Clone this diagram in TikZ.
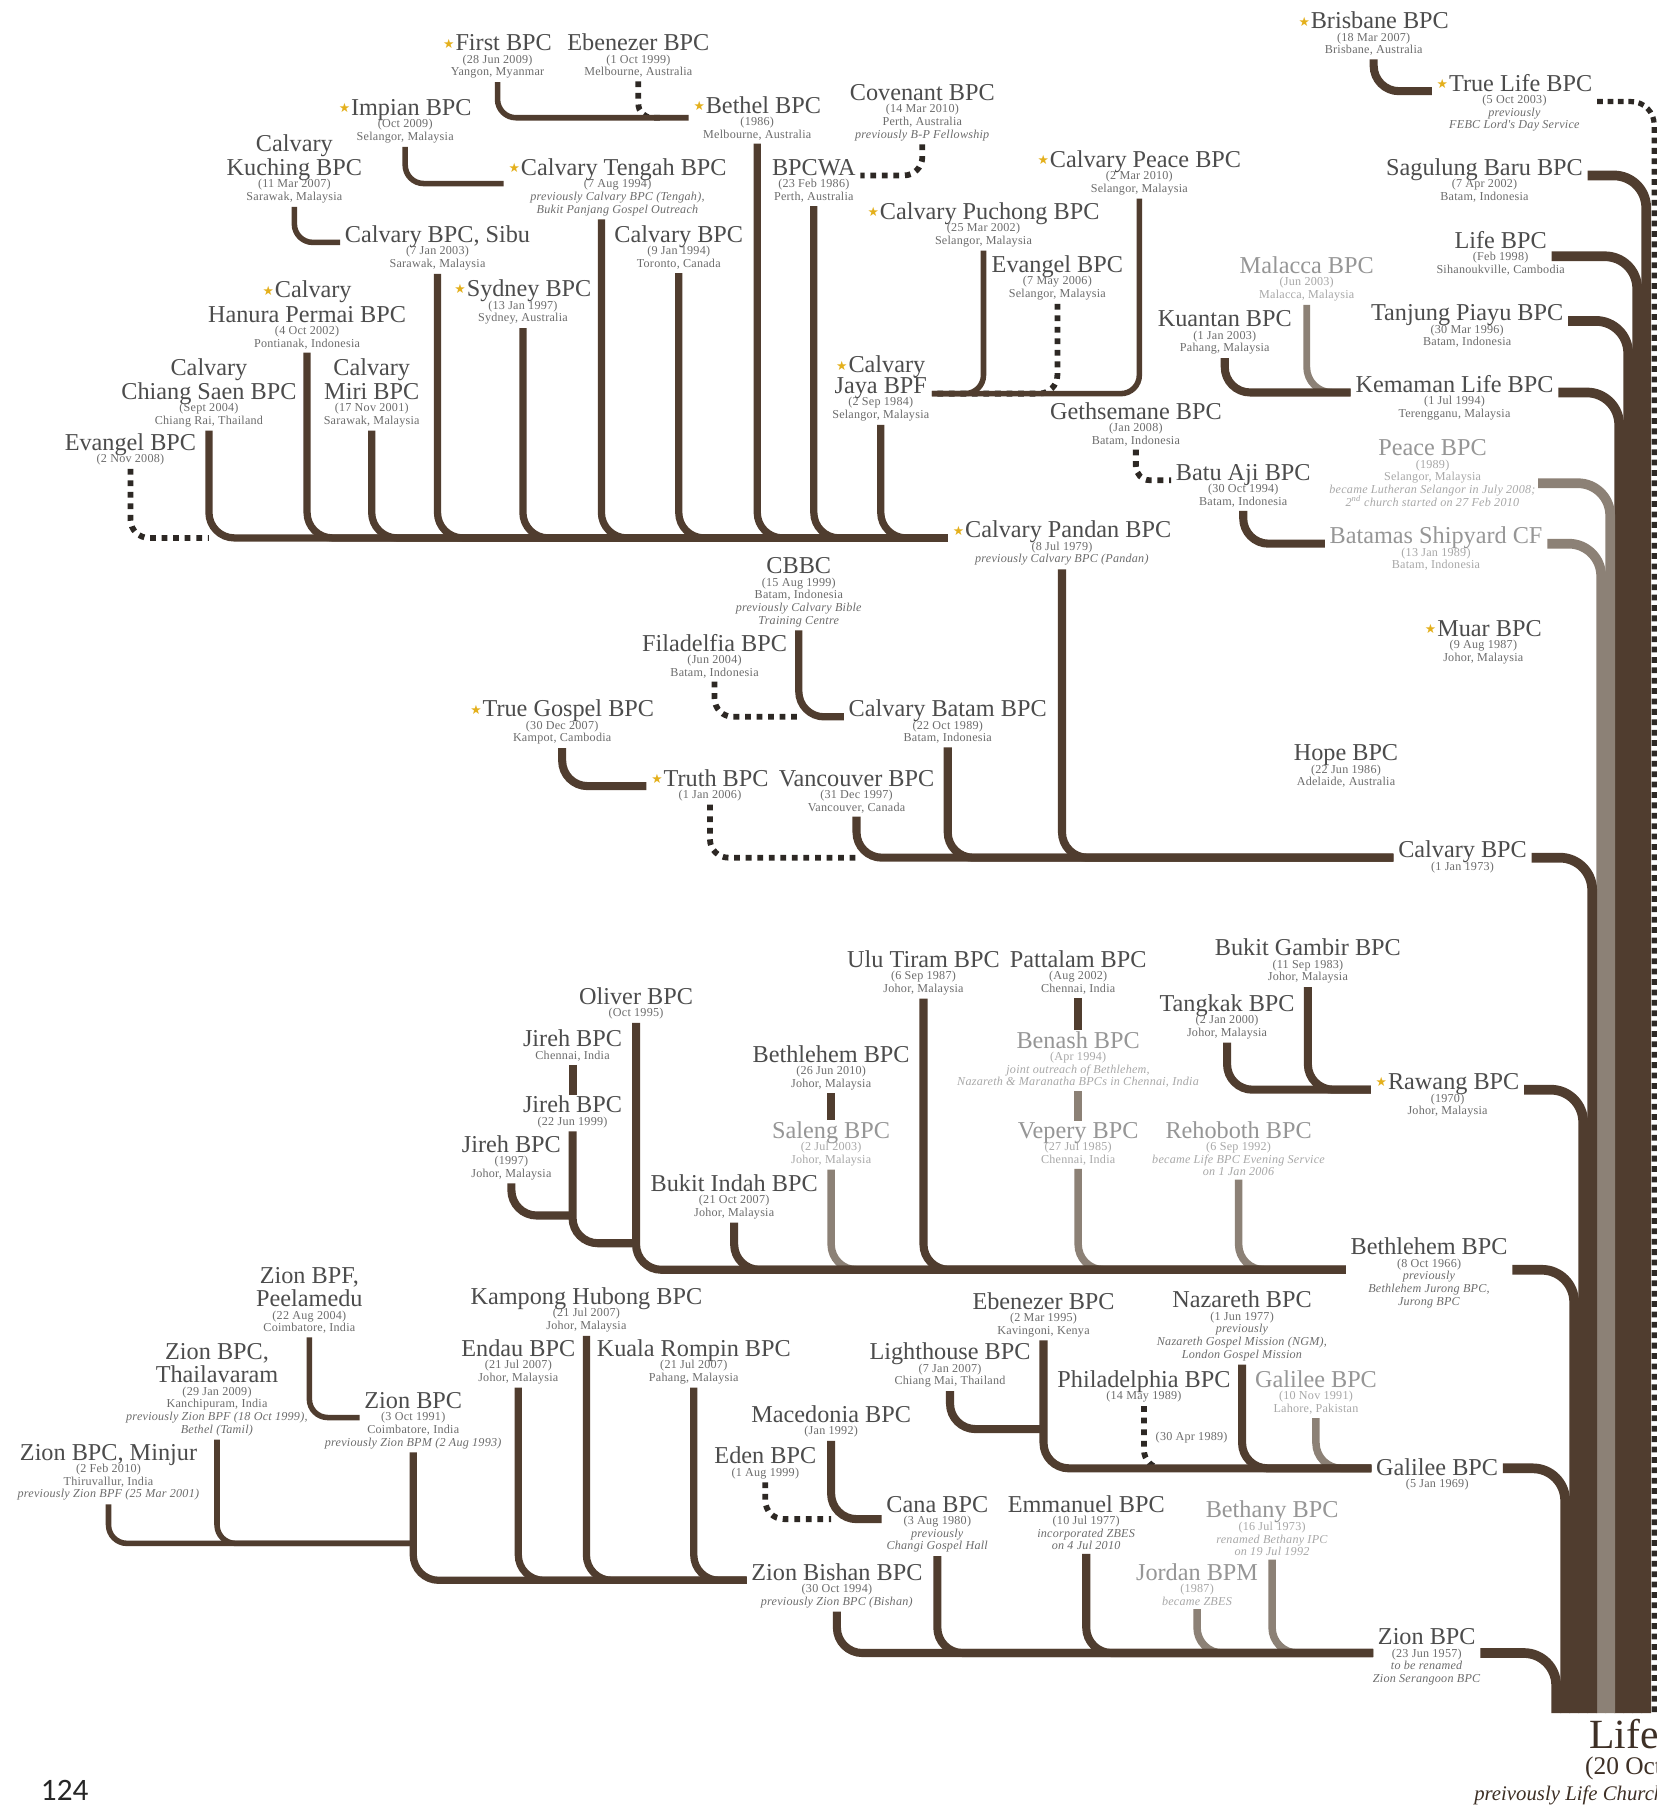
\documentclass[tikz,border=0pt]{standalone}
\usepackage{fontspec}
\setmainfont{Liberation Serif}
\newfontfamily\subff[LetterSpace=2]{Liberation Serif}
\newfontfamily\symf{DejaVu Sans}
\newfontfamily\numf{Carlito}
\setlength{\lineskiplimit}{-100pt}
\definecolor{brn}{RGB}{80,61,47}
\definecolor{gln}{RGB}{140,129,118}
\definecolor{dotc}{RGB}{45,40,36}
\definecolor{tcol}{RGB}{76,76,76}
\definecolor{scol}{RGB}{108,108,108}
\definecolor{fcol}{RGB}{150,150,150}
\definecolor{fscol}{RGB}{168,168,168}
\definecolor{gold}{RGB}{228,176,28}
\definecolor{lifec}{RGB}{62,48,38}
\newcommand\gstar{\raisebox{2.4pt}{\textcolor{gold}{\symf\fontsize{11}{11}\selectfont ★}}\hspace{0.8pt}}
\newcommand\subf{\subff\fontsize{10.5}{11}\selectfont}
\tikzset{
  tt/.style={font=\fontsize{21}{21}\selectfont, text=tcol, inner xsep=4pt, inner ysep=1pt, text depth=0pt, anchor=base},
  ttg/.style={tt, text=fcol},
  ss/.style={font=\subf, text=scol, anchor=north, inner xsep=2pt, inner ysep=3pt, yshift=1pt, align=center},
  ssg/.style={ss, text=fscol},
  link/.style={draw=brn, line width=7pt, rounded corners=22pt, line cap=butt},
  linkc/.style={link, line width=6.3pt},
  linkd/.style={link, line width=4.8pt, rounded corners=16pt},
  glink/.style={link, draw=gln, line width=6.5pt},
  dlink/.style={draw=dotc, line width=5pt, dash pattern=on 5pt off 5pt, rounded corners=16pt, line cap=butt},
  trunk/.style={draw=brn, line width=8.4pt, rounded corners=28pt, line cap=butt}
}
\begin{document}
\begin{tikzpicture}[x=1pt,y=-1pt]
\fill[white] (0,0) rectangle (1435,1568);
\useasboundingbox (0,0) rectangle (1435,1568);

% ---------- top-left cluster ----------
\node[tt] (first) at (431,44) {\gstar First BPC};
\node[ss] (first-s) at (first.south) {(28 Jun 2009)\\Yangon, Myanmar};
\node[tt] (ebmel) at (553,44) {Ebenezer BPC};
\node[ss] (ebmel-s) at (ebmel.south) {(1 Oct 1999)\\Melbourne, Australia};
\node[tt] (bethel) at (656,98) {\gstar Bethel BPC};
\node[ss] (bethel-s) at (bethel.south) {(1986)\\Melbourne, Australia};
\node[tt] (covenant) at (799,87) {Covenant BPC};
\node[ss] (covenant-s) at (covenant.south) {(14 Mar 2010)\\Perth, Australia\\\textit{previously B-P Fellowship}};
\node[tt] (impian) at (351,100) {\gstar Impian BPC};
\node[ss] (impian-s) at (impian.south) {(Oct 2009)\\Selangor, Malaysia};
\node[tt] (kuching) at (255,152) {Kuching BPC};
\node[tt] (kuching-a) at ([yshift=21pt]kuching.base) {Calvary};
\node[ss] (kuching-s) at (kuching.south) {(11 Mar 2007)\\Sarawak, Malaysia};
\node[tt] (tengah) at (535,152) {\gstar Calvary Tengah BPC};
\node[ss] (tengah-s) at (tengah.south) {(7 Aug 1994)\\\textit{previously Calvary BPC (Tengah),}\\\textit{Bukit Panjang Gospel Outreach}};
\node[tt] (bpcwa) at (705,152) {BPCWA};
\node[ss] (bpcwa-s) at (bpcwa.south) {(23 Feb 1986)\\Perth, Australia};
\node[tt] (cpeace) at (987,145) {\gstar Calvary Peace BPC};
\node[ss] (cpeace-s) at (cpeace.south) {(2 Mar 2010)\\Selangor, Malaysia};
\node[tt] (puchong) at (852,190) {\gstar Calvary Puchong BPC};
\node[ss] (puchong-s) at (puchong.south) {(25 Mar 2002)\\Selangor, Malaysia};
\node[tt] (sibu) at (379,210) {Calvary BPC, Sibu};
\node[ss] (sibu-s) at (sibu.south) {(7 Jan 2003)\\Sarawak, Malaysia};
\node[tt] (toronto) at (588,210) {Calvary BPC};
\node[ss] (toronto-s) at (toronto.south) {(9 Jan 1994)\\Toronto, Canada};
\node[tt] (evsel) at (916,236) {Evangel BPC};
\node[ss] (evsel-s) at (evsel.south) {(7 May 2006)\\Selangor, Malaysia};
\node[tt] (hanura) at (266,279) {Hanura Permai BPC};
\node[tt] (hanura-a) at ([yshift=21pt]hanura.base) {\gstar Calvary};
\node[ss] (hanura-s) at (hanura.south) {(4 Oct 2002)\\Pontianak, Indonesia};
\node[tt] (sydney) at (453,257) {\gstar Sydney BPC};
\node[ss] (sydney-s) at (sydney.south) {(13 Jan 1997)\\Sydney, Australia};
\node[tt] (chiang) at (181,346) {Chiang Saen BPC};
\node[tt] (chiang-a) at ([yshift=21pt]chiang.base) {Calvary};
\node[ss] (chiang-s) at (chiang.south) {(Sept 2004)\\Chiang Rai, Thailand};
\node[tt] (miri) at (322,346) {Miri BPC};
\node[tt] (miri-a) at ([yshift=21pt]miri.base) {Calvary};
\node[ss] (miri-s) at (miri.south) {(17 Nov 2001)\\Sarawak, Malaysia};
\node[tt] (jaya) at (763,341) {Jaya BPF};
\node[tt] (jaya-a) at ([yshift=18pt]jaya.base) {\gstar Calvary};
\node[ss] (jaya-s) at (jaya.south) {(2 Sep 1984)\\Selangor, Malaysia};
\node[tt] (evangel) at (113,390) {Evangel BPC};
\node[ss] (evangel-s) at (evangel.south) {(2 Nov 2008)};
\node[tt] (pandan) at (920,466) {\gstar Calvary Pandan BPC};
\node[ss] (pandan-s) at (pandan.south) {(8 Jul 1979)\\\textit{previously Calvary BPC (Pandan)}};

% ---------- middle ----------
\node[tt] (cbbc) at (692,497) {CBBC};
\node[ss] (cbbc-s) at (cbbc.south) {(15 Aug 1999)\\Batam, Indonesia\\\textit{previously Calvary Bible}\\\textit{Training Centre}};
\node[tt] (filad) at (619,564) {Filadelfia BPC};
\node[ss] (filad-s) at (filad.south) {(Jun 2004)\\Batam, Indonesia};
\node[tt] (truegospel) at (487,621) {\gstar True Gospel BPC};
\node[ss] (truegospel-s) at (truegospel.south) {(30 Dec 2007)\\Kampot, Cambodia};
\node[tt] (cbatam) at (821,621) {Calvary Batam BPC};
\node[ss] (cbatam-s) at (cbatam.south) {(22 Oct 1989)\\Batam, Indonesia};
\node[tt] (truth) at (615,681) {\gstar Truth BPC};
\node[ss] (truth-s) at (truth.south) {(1 Jan 2006)};
\node[tt] (vanc) at (742,681) {Vancouver BPC};
\node[ss] (vanc-s) at (vanc.south) {(31 Dec 1997)\\Vancouver, Canada};
\node[tt] (calvary) at (1267,743) {Calvary BPC};
\node[ss] (calvary-s) at (calvary.south) {(1 Jan 1973)};
\node[tt] (hope) at (1166,659) {Hope BPC};
\node[ss] (hope-s) at (hope.south) {(22 Jun 1986)\\Adelaide, Australia};
\node[tt] (muar) at (1285,551) {\gstar Muar BPC};
\node[ss] (muar-s) at (muar.south) {(9 Aug 1987)\\Johor, Malaysia};

% ---------- upper right ----------
\node[tt] (brisbane) at (1190,25) {\gstar Brisbane BPC};
\node[ss] (brisbane-s) at (brisbane.south) {(18 Mar 2007)\\Brisbane, Australia};
\node[tt] (truelife) at (1312,79) {\gstar True Life BPC};
\node[ss] (truelife-s) at (truelife.south) {(5 Oct 2003)\\\textit{previously}\\\textit{FEBC Lord's Day Service}};
\node[tt] (sag) at (1286,152) {Sagulung Baru BPC};
\node[ss] (sag-s) at (sag.south) {(7 Apr 2002)\\Batam, Indonesia};
\node[tt] (life) at (1300,215) {Life BPC};
\node[ss] (life-s) at (life.south) {(Feb 1998)\\Sihanoukville, Cambodia};
\node[tt] (tanjung) at (1271,278) {Tanjung Piayu BPC};
\node[ss] (tanjung-s) at (tanjung.south) {(30 Mar 1996)\\Batam, Indonesia};
\node[ttg] (malacca) at (1132,237) {Malacca BPC};
\node[ssg] (malacca-s) at (malacca.south) {(Jun 2003)\\Malacca, Malaysia};
\node[tt] (kuantan) at (1061,283) {Kuantan BPC};
\node[ss] (kuantan-s) at (kuantan.south) {(1 Jan 2003)\\Pahang, Malaysia};
\node[tt] (kemaman) at (1260,340) {Kemaman Life BPC};
\node[ss] (kemaman-s) at (kemaman.south) {(1 Jul 1994)\\Terengganu, Malaysia};
\node[tt] (geth) at (984,363) {Gethsemane BPC};
\node[ss] (geth-s) at (geth.south) {(Jan 2008)\\Batam, Indonesia};
\node[ttg] (peace) at (1241,395) {Peace BPC};
\node[ssg] (peace-s) at (peace.south) {(1989)\\Selangor, Malaysia\\\textit{became Lutheran Selangor in July 2008;}\\\textit{2\textsuperscript{nd} church started on 27 Feb 2010}};
\node[tt] (batuaji) at (1077,416) {Batu Aji BPC};
\node[ss] (batuaji-s) at (batuaji.south) {(30 Oct 1994)\\Batam, Indonesia};
\node[ttg] (batamas) at (1244,471) {Batamas Shipyard CF};
\node[ssg] (batamas-s) at (batamas.south) {(13 Jan 1989)\\Batam, Indonesia};

% ---------- lower ----------
\node[tt] (ulutiram) at (800,838) {Ulu Tiram BPC};
\node[ss] (ulutiram-s) at (ulutiram.south) {(6 Sep 1987)\\Johor, Malaysia};
\node[tt] (pattalam) at (934,838) {Pattalam BPC};
\node[ss] (pattalam-s) at (pattalam.south) {(Aug 2002)\\Chennai, India};
\node[tt] (bgambir) at (1133,828) {Bukit Gambir BPC};
\node[ss] (bgambir-s) at (bgambir.south) {(11 Sep 1983)\\Johor, Malaysia};
\node[tt] (oliver) at (551,870) {Oliver BPC};
\node[ss] (oliver-s) at (oliver.south) {(Oct 1995)};
\node[tt] (tangkak) at (1063,876) {Tangkak BPC};
\node[ss] (tangkak-s) at (tangkak.south) {(2 Jan 2000)\\Johor, Malaysia};
\node[tt] (jireh1) at (496,907) {Jireh BPC};
\node[ss] (jireh1-s) at (jireh1.south) {Chennai, India};
\node[ttg] (benash) at (934,908) {Benash BPC};
\node[ssg] (benash-s) at (benash.south) {(Apr 1994)\\\textit{joint outreach of Bethlehem,}\\\textit{Nazareth \& Maranatha BPCs in Chennai, India}};
\node[tt] (bethjohor) at (720,920) {Bethlehem BPC};
\node[ss] (bethjohor-s) at (bethjohor.south) {(26 Jun 2010)\\Johor, Malaysia};
\node[tt] (rawang) at (1254,944) {\gstar Rawang BPC};
\node[ss] (rawang-s) at (rawang.south) {(1970)\\Johor, Malaysia};
\node[tt] (jireh2) at (496,964) {Jireh BPC};
\node[ss] (jireh2-s) at (jireh2.south) {(22 Jun 1999)};
\node[ttg] (saleng) at (720,986) {Saleng BPC};
\node[ssg] (saleng-s) at (saleng.south) {(2 Jul 2003)\\Johor, Malaysia};
\node[ttg] (vepery) at (934,986) {Vepery BPC};
\node[ssg] (vepery-s) at (vepery.south) {(27 Jul 1985)\\Chennai, India};
\node[ttg] (rehoboth) at (1073,986) {Rehoboth BPC};
\node[ssg] (rehoboth-s) at (rehoboth.south) {(6 Sep 1992)\\\textit{became Life BPC Evening Service}\\\textit{on 1 Jan 2006}};
\node[tt] (jireh3) at (443,998) {Jireh BPC};
\node[ss] (jireh3-s) at (jireh3.south) {(1997)\\Johor, Malaysia};
\node[tt] (bindah) at (636,1032) {Bukit Indah BPC};
\node[ss] (bindah-s) at (bindah.south) {(21 Oct 2007)\\Johor, Malaysia};
\node[tt] (bethlehem) at (1238,1087) {Bethlehem BPC};
\node[ss] (bethlehem-s) at (bethlehem.south) {(8 Oct 1966)\\\textit{previously}\\\textit{Bethlehem Jurong BPC,}\\\textit{Jurong BPC}};

\node[tt] (kampong) at (508,1130) {Kampong Hubong BPC};
\node[ss] (kampong-s) at (kampong.south) {(21 Jul 2007)\\Johor, Malaysia};
\node[tt] (ebkenya) at (904,1134) {Ebenezer BPC};
\node[ss] (ebkenya-s) at (ebkenya.south) {(2 Mar 1995)\\Kavingoni, Kenya};
\node[tt] (nazareth) at (1076,1133) {Nazareth BPC};
\node[ss] (nazareth-s) at (nazareth.south) {(1 Jun 1977)\\\textit{previously}\\\textit{Nazareth Gospel Mission (NGM),}\\\textit{London Gospel Mission}};
\node[tt] (peelamedu) at (268,1132) {Peelamedu};
\node[tt] (peelamedu-a) at ([yshift=20pt]peelamedu.base) {Zion BPF,};
\node[ss] (peelamedu-s) at (peelamedu.south) {(22 Aug 2004)\\Coimbatore, India};
\node[tt] (endau) at (449,1175) {Endau BPC};
\node[ss] (endau-s) at (endau.south) {(21 Jul 2007)\\Johor, Malaysia};
\node[tt] (kuala) at (601,1175) {Kuala Rompin BPC};
\node[ss] (kuala-s) at (kuala.south) {(21 Jul 2007)\\Pahang, Malaysia};
\node[tt] (lighthouse) at (823,1178) {Lighthouse BPC};
\node[ss] (lighthouse-s) at (lighthouse.south) {(7 Jan 2007)\\Chiang Mai, Thailand};
\node[tt] (thail) at (188,1198) {Thailavaram};
\node[tt] (thail-a) at ([yshift=20pt]thail.base) {Zion BPC,};
\node[ss] (thail-s) at (thail.south) {(29 Jan 2009)\\Kanchipuram, India\\\textit{previously Zion BPF (18 Oct 1999),}\\\textit{Bethel (Tamil)}};
\node[tt] (philadelphia) at (991,1202) {Philadelphia BPC};
\node[ss] (philadelphia-s) at (philadelphia.south) {(14 May 1989)};
\node[ttg] (galahore) at (1140,1202) {Galilee BPC};
\node[ssg] (galahore-s) at (galahore.south) {(10 Nov 1991)\\Lahore, Pakistan};
\node[tt] (zcoimb) at (358,1220) {Zion BPC};
\node[ss] (zcoimb-s) at (zcoimb.south) {(3 Oct 1991)\\Coimbatore, India\\\textit{previously Zion BPM (2 Aug 1993)}};
\node[tt] (macedonia) at (720,1232) {Macedonia BPC};
\node[ss] (macedonia-s) at (macedonia.south) {(Jan 1992)};
\node[font=\subf, text=scol, anchor=west, inner sep=1pt] (apr) at (1000,1245) {(30 Apr 1989)};
\node[tt] (minjur) at (94,1265) {Zion BPC, Minjur};
\node[ss] (minjur-s) at (minjur.south) {(2 Feb 2010)\\Thiruvallur, India\\\textit{previously Zion BPF (25 Mar 2001)}};
\node[tt] (eden) at (663,1268) {Eden BPC};
\node[ss] (eden-s) at (eden.south) {(1 Aug 1999)};
\node[tt] (galilee) at (1245,1278) {Galilee BPC};
\node[ss] (galilee-s) at (galilee.south) {(5 Jan 1969)};
\node[tt] (cana) at (812,1310) {Cana BPC};
\node[ss] (cana-s) at (cana.south) {(3 Aug 1980)\\\textit{previously}\\\textit{Changi Gospel Hall}};
\node[tt] (emmanuel) at (941,1310) {Emmanuel BPC};
\node[ss] (emmanuel-s) at (emmanuel.south) {(10 Jul 1977)\\\textit{incorporated ZBES}\\\textit{on 4 Jul 2010}};
\node[ttg] (bethany) at (1102,1315) {Bethany BPC};
\node[ssg] (bethany-s) at (bethany.south) {(16 Jul 1973)\\\textit{renamed Bethany IPC}\\\textit{on 19 Jul 1992}};
\node[tt] (bishan) at (725,1369) {Zion Bishan BPC};
\node[ss] (bishan-s) at (bishan.south) {(30 Oct 1994)\\\textit{previously Zion BPC (Bishan)}};
\node[ttg] (jordan) at (1037,1369) {Jordan BPM};
\node[ssg] (jordan-s) at (jordan.south) {(1987)\\\textit{became ZBES}};
\node[tt] (zion) at (1236,1425) {Zion BPC};
\node[ss] (zion-s) at (zion.south) {(23 Jun 1957)\\\textit{to be renamed}\\\textit{Zion Serangoon BPC}};

\node[font=\fontsize{36}{36}\selectfont, text=lifec, anchor=base east, inner sep=0pt] (lifet) at (1437,1515) {Life};
\node[font=\fontsize{22}{22}\selectfont, text=lifec, anchor=base east, inner sep=0pt] (lifed) at (1440,1537) {(20 Oct};
\node[font=\fontsize{18}{18}\selectfont\itshape, text=lifec, anchor=base east, inner sep=0pt] (lifep) at (1442,1560) {preivously Life Church};
\node[font=\numf\fontsize{27}{27}\selectfont, text=black!85, inner sep=0pt] (pagenum) at (56,1551) {124};

% ---------- coordinates ----------
\coordinate (tlbot) at (1433,1484);
\coordinate (sagbot) at (1426.1,1484);
\coordinate (lifebot) at (1418.3,1484);
\coordinate (tanbot) at (1410.5,1484);
\coordinate (kembot) at (1402.7,1484);
\coordinate (peacebot) at (1394.9,1484);
\coordinate (batbot) at (1387.1,1484);
\coordinate (calbot) at (1379.3,1484);
\coordinate (rawbot) at (1371.5,1484);
\coordinate (bethbot) at (1363.7,1484);
\coordinate (galbot) at (1355.9,1484);
\coordinate (zionbot) at (1348.1,1484);
\coordinate (j3j) at (496,1053);
\coordinate (j2j) at (551,1077);
\coordinate (lhj) at (904,1238);
\coordinate (zcj) at (358,1337);
\coordinate (bethin) at ([yshift=-13pt]bethlehem.base west);
\coordinate (bethout) at ([yshift=-13pt]bethlehem.base east);
\coordinate (galin) at ([yshift=6pt]galilee.base west);
\coordinate (galout) at ([yshift=6pt]galilee.base east);
\coordinate (zin) at ([yshift=-7pt]zion.base west);
\coordinate (zout) at ([yshift=-7pt]zion.base east);
\coordinate (canaw) at ([yshift=-6pt]cana.base west);

% ---------- Pandan cluster ----------
\draw[dlink] (evangel-s.south) |- (chiang-s.south |- pandan.base west);
\foreach \nm in {chiang,hanura,miri,sibu,sydney,toronto,bethel,bpcwa,jaya}
  \draw[linkc] (\nm-s.south) |- (pandan.base west);
\draw[linkc] ([xshift=-14pt]tengah-s.south) |- (pandan.base west);
\draw[linkd] (kuching-s.south) |- (sibu.base west);
\draw[linkd] (impian-s.south) |- ([yshift=-7pt]tengah.base west);
\draw[dlink, rounded corners=12pt] (ebmel-s.south) |- ([yshift=-4pt,xshift=-20pt]bethel.base west);
\draw[linkd] (first-s.south) |- ([yshift=-4pt]bethel.base west);
\draw[dlink] (covenant-s.south) |- (bpcwa.base east);
\draw[dlink] (evsel-s.south) |- (jaya.base east);
\draw[linkd] (puchong-s.south) |- (jaya.base east);
\draw[linkd] (cpeace-s.south) |- (jaya.base east);

% ---------- Calvary cluster ----------
\draw[link] (pandan-s.south) |- (calvary.base west);
\draw[dlink] (truth-s.south) |- (vanc-s.south |- calvary.base west);
\draw[link] (truegospel-s.south) |- (truth.base west);
\draw[link] (vanc-s.south) |- (calvary.base west);
\draw[link] (cbatam-s.south) |- (calvary.base west);
\draw[dlink] (filad-s.south) |- (cbbc-s.south |- cbatam.base west);
\draw[linkc] (cbbc-s.south) |- (cbatam.base west);

% ---------- upper right ----------
\draw[link] (brisbane-s.south) |- (truelife.base west);
\draw[glink, line width=6pt] (malacca-s.south) |- (kemaman.base west);
\draw[link] (kuantan-s.south) |- (kemaman.base west);
\draw[dlink, rounded corners=12pt] (geth-s.south) |- (batuaji.base west);
\draw[link] (batuaji-s.south) |- (batamas.base west);

% ---------- lower clusters ----------
\draw[link] (bgambir-s.south) |- (rawang.base west);
\draw[link] (tangkak-s.south) |- (rawang.base west);

\draw[glink] (saleng-s.south) |- (bethin);
\draw[glink] (vepery-s.south) |- (bethin);
\draw[glink] (rehoboth-s.south) |- (bethin);
\draw[glink] (benash-s.south) -- (vepery.north);
\draw[link] (jireh3-s.south) |- (j3j);
\draw[link] (jireh2-s.south) |- (j2j);
\draw[link] (oliver-s.south) |- (bethin);
\draw[link] (bindah-s.south) |- (bethin);
\draw[link] (ulutiram-s.south) |- (bethin);
\draw[link] (jireh1-s.south) -- (jireh2.north);
\draw[link] (bethjohor-s.south) -- (saleng.north);
\draw[link] (pattalam-s.south) -- (benash.north);

\draw[glink] (galahore-s.south) |- (galin);
\draw[dlink] (philadelphia-s.south) |- (galin);
\draw[link] (ebkenya-s.south) |- (galin);
\draw[link] (nazareth-s.south) |- (galin);
\draw[link] (lighthouse-s.south) |- (lhj);

\draw[glink] (jordan-s.south) |- (zin);
\draw[glink] (bethany-s.south) |- (zin);
\draw[link] (bishan-s.south) |- (zin);
\draw[link] (cana-s.south) |- (zin);
\draw[link] (emmanuel-s.south) |- (zin);
\draw[dlink] (eden-s.south) |- (macedonia-s.south |- canaw);
\draw[link] (macedonia-s.south) |- (canaw);

\draw[linkc] (zcoimb-s.south) |- (bishan.base west);
\draw[linkc] (endau-s.south) |- (bishan.base west);
\draw[linkc] (kampong-s.south) |- (bishan.base west);
\draw[linkc] (kuala-s.south) |- (bishan.base west);
\draw[linkd] (minjur-s.south) |- (zcj);
\draw[linkd] (thail-s.south) |- (zcj);
\draw[linkd] (peelamedu-s.south) |- ([yshift=-8pt]zcoimb.base west);

% ---------- trunk ----------
\draw[dlink, line width=4.5pt, dash pattern=on 5pt off 4pt, rounded corners=20pt] ([yshift=-9pt]truelife.base east) -| (tlbot);
\draw[trunk] (sag.base east) -| (sagbot);
\draw[trunk] ([yshift=-7pt]life.base east) -| (lifebot);
\draw[trunk] (tanjung.base east) -| (tanbot);
\draw[trunk] (kemaman.base east) -| (kembot);
\draw[trunk, draw=gln] (peace-s.east) -| (peacebot);
\draw[trunk, draw=gln] (batamas.base east) -| (batbot);
\draw[trunk] (calvary.base east) -| (calbot);
\draw[trunk] (rawang.base east) -| (rawbot);
\draw[trunk] (bethout) -| (bethbot);
\draw[trunk] (galout) -| (galbot);
\draw[trunk] (zout) -| (zionbot);
\end{tikzpicture}
\end{document}
